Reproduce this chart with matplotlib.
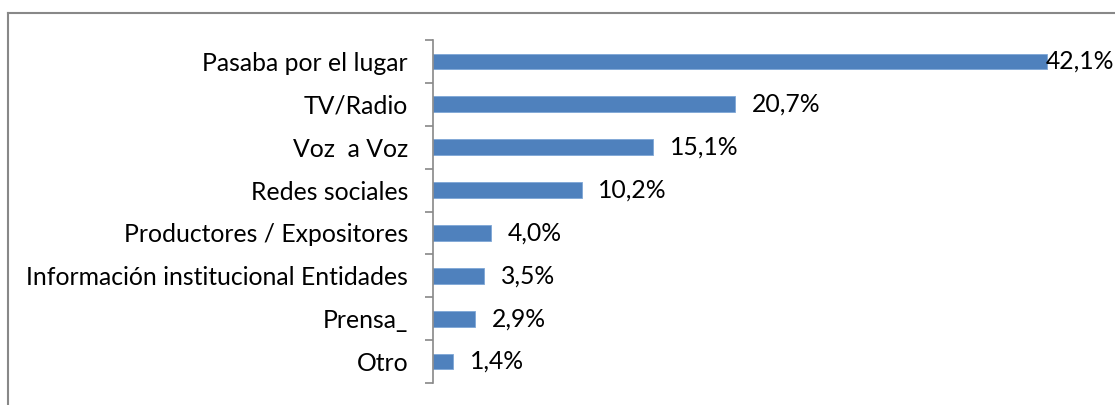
import matplotlib.pyplot as plt
from matplotlib.lines import Line2D

plt.rcParams['font.family'] = ['Lato', 'DejaVu Sans']

categories = ['Pasaba por el lugar', 'TV/Radio', 'Voz  a Voz', 'Redes sociales',
              'Productores / Expositores', 'Información institucional Entidades',
              'Prensa_', 'Otro']
values = [42.1, 20.7, 15.1, 10.2, 4.0, 3.5, 2.9, 1.4]
labels = ['42,1%', '20,7%', '15,1%', '10,2%', '4,0%', '3,5%', '2,9%', '1,4%']

fig = plt.figure(figsize=(11.15, 4.05), dpi=100)
ax = fig.add_axes([433 / 1115, 22 / 405, 656 / 1115, 343 / 405])

pos = list(range(len(categories)))
ax.barh(pos, values, height=0.37, color='#4F81BD', edgecolor='#7EA6D6', linewidth=0.6)
ax.set_ylim(len(categories) - 0.5, -0.5)
ax.set_xlim(0, 45)

for p, v, t in zip(pos, values, labels):
    # the longest label gets pushed back against its bar, as in the original
    off = -1 if v == max(values) else 12
    ax.annotate(t, (v, p), xytext=(off, 0), textcoords='offset points',
                va='center', ha='left', fontsize=17.8, color='black')

ax.set_yticks(pos)
ax.set_yticklabels(categories, fontsize=17.8)
ax.tick_params(axis='y', length=0, pad=18)
# boundary ticks between categories
ax.set_yticks([i - 0.5 for i in range(len(categories) + 1)], minor=True)
ax.tick_params(axis='y', which='minor', length=6, width=1.2, color='#888888', direction='out')
ax.set_xticks([])
for s in ['top', 'right', 'bottom']:
    ax.spines[s].set_visible(False)
ax.spines['left'].set_color('#888888')
ax.spines['left'].set_linewidth(1.2)

# outer chart frame (only partly visible)
fig.add_artist(Line2D([7.5 / 1115, 7.5 / 1115], [0, 1 - 12.5 / 405], color='#888888', lw=1.5))
fig.add_artist(Line2D([7.5 / 1115, 1], [1 - 12.5 / 405, 1 - 12.5 / 405], color='#888888', lw=1.5))

fig.savefig('out.png', dpi=100)
